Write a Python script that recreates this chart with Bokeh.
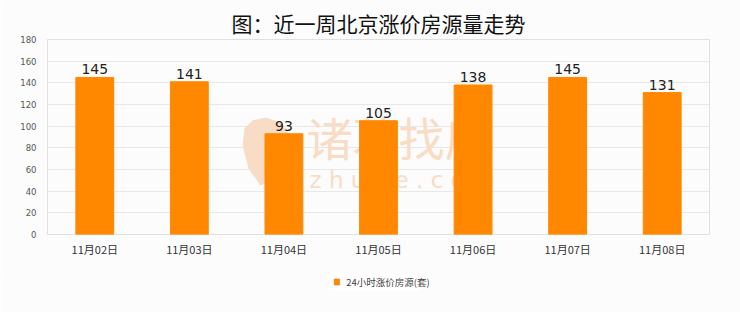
from bokeh.plotting import figure
from bokeh.layouts import column
from bokeh.core.properties import value
from bokeh.models import (ColumnDataSource, FactorRange, Range1d,
                          Label, LabelSet, SingleIntervalTicker, Title, PolyAnnotation)
from bokeh.embed import file_html
from bokeh.resources import INLINE

dates = ["11月02日", "11月03日", "11月04日", "11月05日", "11月06日", "11月07日", "11月08日"]
counts = [145, 141, 93, 105, 138, 145, 131]
series_name = "24小时涨价房源(套)"
title_text = "图：近一周北京涨价房源量走势"

FONT = "Noto Sans CJK SC"
BG = "#fcfcfc"
ORANGE = "#ff8800"
WM = "#f9dcc5"

src = ColumnDataSource(dict(x=dates, y=counts, lab=[str(c) for c in counts]))

p = figure(width=740, height=272, x_range=FactorRange(*dates), y_range=Range1d(0, 180),
           output_backend="svg", toolbar_location=None,
           min_border_left=47, min_border_right=31, min_border_top=39, min_border_bottom=38)
p.background_fill_color = BG
p.border_fill_color = BG
p.outline_line_color = "#e0e0e0"

# watermark (screen units relative to the plot frame)
logo = PolyAnnotation(xs=[213, 201, 195, 197, 205, 218, 233, 243, 241, 228],
                      ys=[49, 66, 89, 106, 114, 117, 112, 99, 74, 56],
                      xs_units="screen", ys_units="screen",
                      fill_color=WM, fill_alpha=1.0, line_color=None, level="underlay")
p.add_layout(logo)
wm1 = Label(x=259, y=66, x_units="screen", y_units="screen", text="诸葛找房",
            text_font=FONT, text_font_size="46px", text_color=WM, text_baseline="bottom",
            level="underlay")
wm2 = Label(x=262, y=42, x_units="screen", y_units="screen", text="z h u g e . c o m",
            text_font="DejaVu Sans", text_font_size="23px", text_color=WM,
            text_baseline="bottom", level="underlay")
p.add_layout(wm1)
p.add_layout(wm2)

r = p.vbar(x="x", top="y", width=0.4, source=src, fill_color=ORANGE, line_color=ORANGE)

labels = LabelSet(x="x", y="y", text="lab", source=src, text_align="center",
                  text_baseline="alphabetic", y_offset=3, text_font=value("DejaVu Sans"),
                  text_font_size=value("14px"), text_color="#222222")
p.add_layout(labels)

p.title = Title(text=title_text, align="center", text_font=FONT, text_font_size="21px",
                text_font_style="normal", text_color="#111111", vertical_align="top",
                offset=-8)
p.title.standoff = 0

p.yaxis.ticker = SingleIntervalTicker(interval=20)
p.ygrid.grid_line_color = "#e8e8e8"
p.ygrid.grid_line_width = 1
p.xgrid.grid_line_color = None
for ax in (p.xaxis, p.yaxis):
    ax.axis_line_color = None
    ax.major_tick_line_color = None
    ax.minor_tick_line_color = None
    ax.major_tick_out = 0
    ax.major_tick_in = 0
p.yaxis.major_label_text_font = "DejaVu Sans"
p.yaxis.major_label_text_font_size = "8.5px"
p.yaxis.major_label_text_color = "#555555"
p.yaxis.major_label_standoff = 7
p.xaxis.major_label_text_font = FONT
p.xaxis.major_label_text_font_size = "11px"
p.xaxis.major_label_text_color = "#333333"
p.xaxis.major_label_standoff = 6

# legend strip (drawn in pixel-sized data space)
p2 = figure(width=740, height=40, x_range=Range1d(0, 740), y_range=Range1d(40, 0),
            output_backend="svg", toolbar_location=None,
            x_axis_location=None, y_axis_location=None,
            min_border_left=0, min_border_right=0, min_border_top=0, min_border_bottom=0)
p2.background_fill_color = BG
p2.border_fill_color = BG
p2.outline_line_color = None
p2.grid.visible = False
p2.quad(left=[315], right=[418], top=[0], bottom=[18], fill_color="white", line_color=None)
p2.quad(left=[320.5], right=[326.5], top=[6.5], bottom=[12.5], fill_color=ORANGE,
        line_color="#e07000", line_width=0.5)
p2.text(x=[334], y=[9.5], text=[series_name], text_font=value(FONT),
        text_font_size="9.5px", text_color="#444444", text_baseline="middle")

open("out.html", "w").write(file_html(column(p, p2, spacing=0), INLINE))
